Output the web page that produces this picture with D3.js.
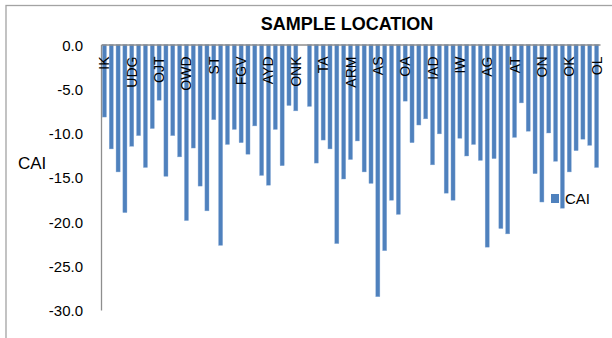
<!DOCTYPE html>
<html>
<head>
<meta charset="utf-8">
<script src="https://cdn.jsdelivr.net/npm/d3@7"></script>
<style>
	html, body { margin: 0; padding: 0; background: #fff; }
	svg { display: block; font-family: "Liberation Sans", Arial, sans-serif; }
</style>
</head>
<body>
<svg id="chart" width="612" height="338"></svg>
<script>

// CAI value for each sample location, left to right (the 30th one has no bar)
var caiValues = [
	-8.2, -11.8, -14.4, -19.0, -11.5, -10.3, -13.9, -9.5, -6.3, -14.9,
	-10.3, -12.7, -19.9, -11.7, -16.0, -18.8, -8.5, -22.7, -11.3, -9.6,
	-11.1, -12.4, -9.2, -14.8, -15.9, -9.6, -13.7, -6.9, -7.5, null,
	-7.0, -13.4, -10.8, -11.8, -22.5, -15.2, -13.0, -10.9, -14.4, -15.7,
	-28.5, -23.3, -17.6, -19.2, -6.4, -11.1, -9.1, -8.4, -13.6, -10.1,
	-16.8, -17.6, -10.6, -12.6, -11.3, -13.1, -22.9, -12.9, -20.8, -21.4,
	-10.5, -6.6, -9.8, -14.6, -17.8, -10.0, -13.2, -18.5, -14.4, -12.0,
	-10.7, -11.4, -13.9
];

// only every fourth location gets a label on the axis
var locationLabels = [
	"IK", "UDG", "OJT", "OWD", "ST", "FGV", "AYD", "ONK", "TA", "ARM",
	"AS", "OA", "IAD", "IW", "AG", "AT", "ON", "OK", "OL"
];
var labelStep = 4;

var yTicks = [0, -5, -10, -15, -20, -25, -30];

var chartTitle = "SAMPLE LOCATION";
var seriesName = "CAI";

var svg = d3.select("#chart");

var plot = { left: 101, right: 600, top: 44.5, bottom: 310 };
var barColor = "#4f81bd";
var axisColor = "#8e8e8e";

// chart border, its right and bottom sides fall outside the picture
svg.append("rect")
	.attr("x", 6)
	.attr("y", 5.5)
	.attr("width", 640)
	.attr("height", 360)
	.attr("fill", "none")
	.attr("stroke", "#a3a3a3")
	.attr("stroke-width", 1.3);

var x = d3.scaleBand()
	.domain(d3.range(caiValues.length))
	.range([plot.left, plot.right])
	.paddingInner(0.4)
	.paddingOuter(0.2);

var y = d3.scaleLinear()
	.domain([-30, 0])
	.range([plot.bottom, plot.top]);

// bars hang down from zero
svg.append("g")
	.selectAll("rect")
	.data(caiValues.map(function(v, i) { return { i: i, v: v }; })
		.filter(function(d) { return d.v != null; }))
	.enter().append("rect")
	.attr("x", function(d) { return x(d.i); })
	.attr("y", y(0))
	.attr("width", x.bandwidth())
	.attr("height", function(d) { return y(d.v) - y(0); })
	.attr("fill", barColor)
	.attr("stroke", "#8fb0d9")
	.attr("stroke-width", 0.4);

// value axis, labels only (plain hyphen as minus sign)
var fmt = d3.format(".1f");
var yAxis = d3.axisLeft(y)
	.tickValues(yTicks)
	.tickSize(0)
	.tickPadding(18)
	.tickFormat(function(d) { return fmt(d).replace("\u2212", "-"); });

var yg = svg.append("g")
	.attr("transform", "translate(" + plot.left + ",0)")
	.call(yAxis);
yg.select(".domain")
	.attr("stroke", axisColor)
	.attr("stroke-width", 1.3);
yg.selectAll("text")
	.attr("font-size", 15)
	.attr("fill", "#000")
	.attr("font-family", "'Liberation Sans', Arial, sans-serif")
	.attr("dy", "0.38em");

// category axis sits on the zero line, labels turned upright below it
var xAxis = d3.axisTop(x)
	.tickValues(d3.range(0, caiValues.length, labelStep))
	.tickSize(0)
	.tickFormat(function(i) { return locationLabels[i / labelStep] || ""; });

var xg = svg.append("g")
	.attr("transform", "translate(0," + y(0) + ")")
	.call(xAxis);
xg.select(".domain")
	.attr("stroke", axisColor)
	.attr("stroke-width", 1.3);
xg.selectAll("text")
	.attr("font-size", 14)
	.attr("fill", "#000")
	.attr("font-family", "'Liberation Sans', Arial, sans-serif")
	.attr("text-anchor", "end")
	.attr("dy", null)
	.attr("y", 0)
	.attr("transform", "translate(5,12) rotate(-90)");

// titles
svg.append("text")
	.attr("x", 347)
	.attr("y", 30)
	.attr("text-anchor", "middle")
	.attr("font-size", 18)
	.attr("font-weight", "bold")
	.text(chartTitle);

svg.append("text")
	.attr("x", 18)
	.attr("y", 169)
	.attr("font-size", 17)
	.text(seriesName);

// legend
var legend = svg.append("g")
	.attr("transform", "translate(551,194)");
legend.append("rect")
	.attr("width", 8)
	.attr("height", 9)
	.attr("fill", barColor);
legend.append("text")
	.attr("x", 14)
	.attr("y", 10)
	.attr("font-size", 15)
	.text(seriesName);

</script>
</body>
</html>
